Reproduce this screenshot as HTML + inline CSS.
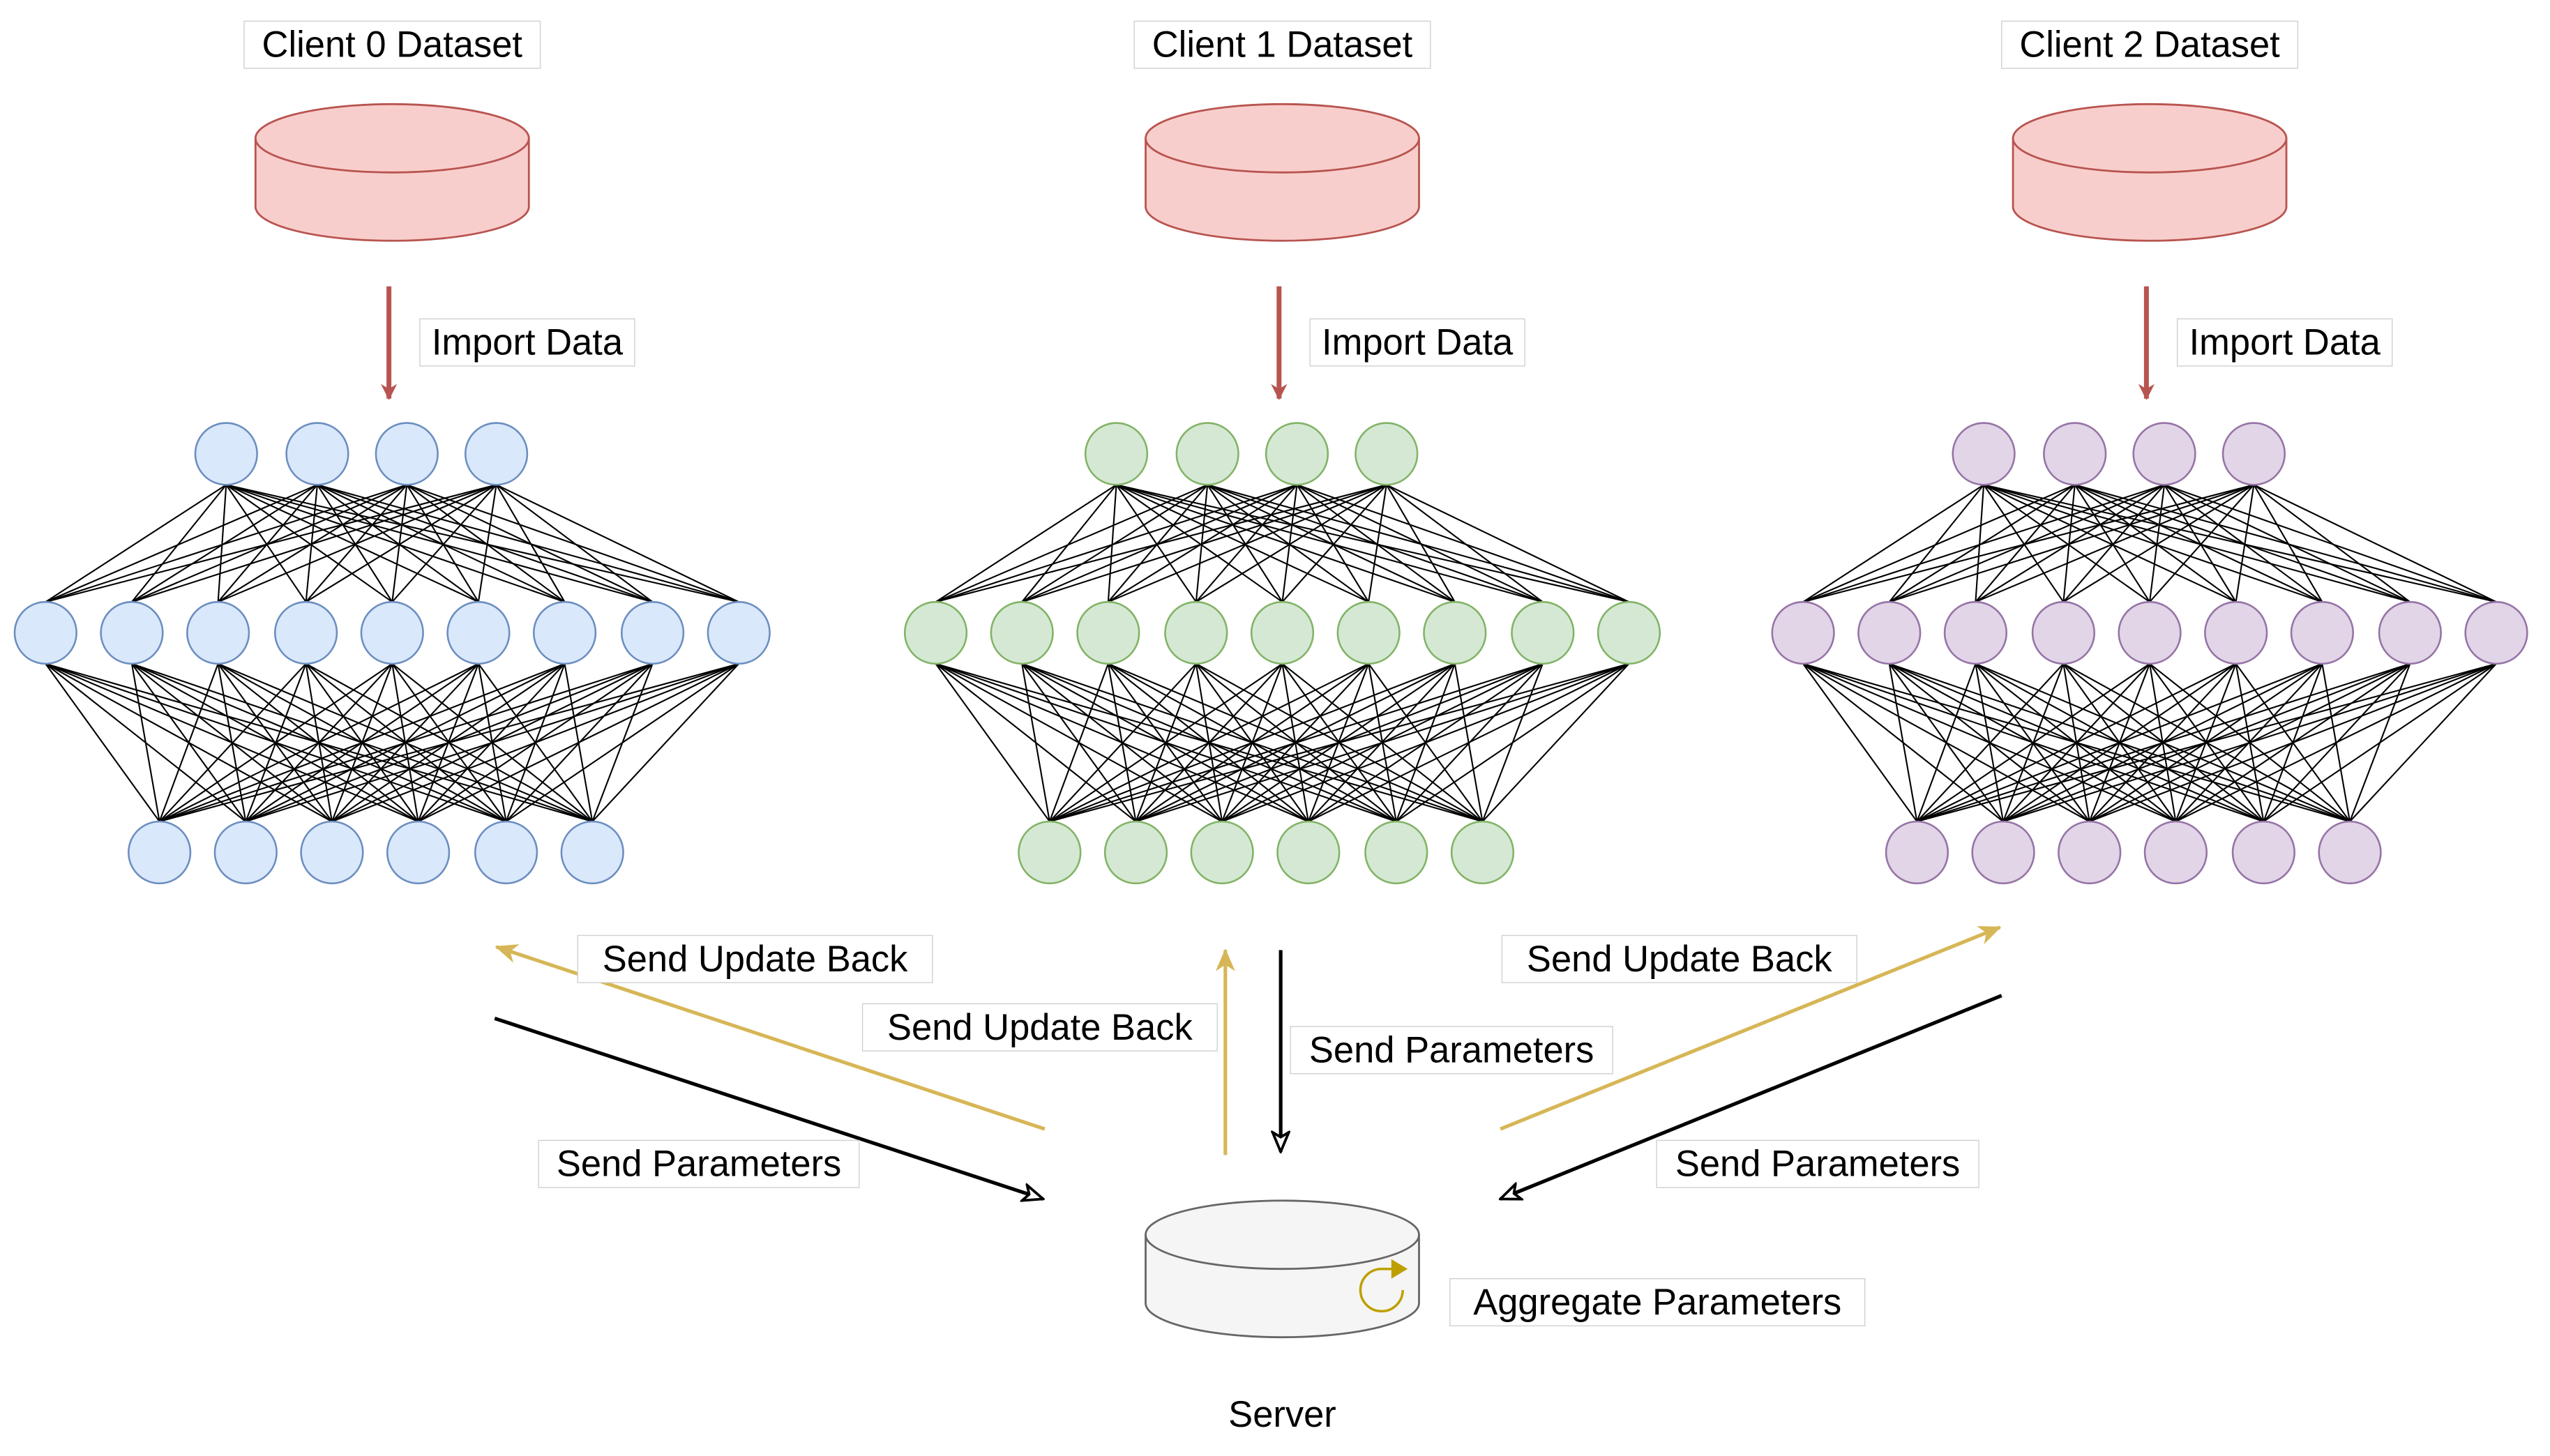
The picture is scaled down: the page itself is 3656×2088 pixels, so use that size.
<!DOCTYPE html>
<html><head><meta charset="utf-8"><style>html,body{margin:0;padding:0;background:#fff}svg{display:block}</style></head>
<body>
<svg xmlns="http://www.w3.org/2000/svg" width="3656" height="2088" viewBox="0 0 1567 895" preserveAspectRatio="none">
<defs>
<marker id="ar" markerWidth="10" markerHeight="10" refX="9" refY="5" orient="auto" markerUnits="userSpaceOnUse"><path d="M0,0 L10,5 L0,10 L3,5 z" fill="#b85450"/></marker>
<marker id="ag" markerWidth="14" markerHeight="12" refX="13" refY="6" orient="auto" markerUnits="userSpaceOnUse"><path d="M0,0 L14,6 L0,12 L4,6 z" fill="#d6b656"/></marker>
<marker id="ab" markerWidth="14" markerHeight="12" refX="13" refY="6" orient="auto" markerUnits="userSpaceOnUse"><path d="M1,1 L13,6 L1,11 L4,6 z" fill="#fff" stroke="#000" stroke-width="1.6"/></marker>
</defs>
<g id="all" font-family="Liberation Sans, sans-serif" font-size="22.5" fill="#000"></g>
</svg>
<script>
const S="http://www.w3.org/2000/svg",g=document.getElementById('all');
function el(t,a,txt){const e=document.createElementNS(S,t);for(const k in a)e.setAttribute(k,a[k]);if(txt)e.textContent=txt;g.appendChild(e);return e;}
function label(x,y,w,t){el('rect',{x:x,y:y,width:w,height:29,fill:'#fff',stroke:'#d0d0d0','stroke-width':0.6});el('text',{x:x+w/2,y:y+22,'text-anchor':'middle'},t);}
function cyl(cx,top,bot,fill,stroke){const rx=84,ry=21;
 el('path',{d:`M${cx-rx},${top+ry} L${cx-rx},${bot-ry} A${rx},${ry} 0 0 0 ${cx+rx},${bot-ry} L${cx+rx},${top+ry} A${rx},${ry} 0 0 0 ${cx-rx},${top+ry} z`,fill:fill,stroke:stroke,'stroke-width':1.2});
 el('path',{d:`M${cx-rx},${top+ry} A${rx},${ry} 0 0 0 ${cx+rx},${top+ry}`,fill:'none',stroke:stroke,'stroke-width':1.2});}
const cols=[['#dae8fc','#6c8ebf'],['#d5e8d4','#82b366'],['#e1d5e7','#9673a6']];
const titles=['Client 0 Dataset','Client 1 Dataset','Client 2 Dataset'];
for(let c=0;c<3;c++){const o=[0,547,1080][c];const cx=[241,788,1321][c];
 label(cx-91,13,182,titles[c]);
 cyl(cx,64,148,'#f8cecc','#b85450');
 el('line',{x1:cx-2,y1:176,x2:cx-2,y2:245,stroke:'#b85450','stroke-width':3,'marker-end':'url(#ar)'});
 label(cx+17,196,132,'Import Data');
 const T=[139,195,250,305].map(x=>x+o),M=[28,81,134,188,241,294,347,401,454].map(x=>x+o),B=[98,151,204,257,311,364].map(x=>x+o);
 for(const a of T)for(const b of M)el('line',{x1:a,y1:298,x2:b,y2:370,stroke:'#000','stroke-width':0.9});
 for(const a of M)for(const b of B)el('line',{x1:a,y1:408,x2:b,y2:505,stroke:'#000','stroke-width':0.9});
 for(const x of T)el('ellipse',{cx:x,cy:279,rx:19,ry:19,fill:cols[c][0],stroke:cols[c][1],'stroke-width':1.1});
 for(const x of M)el('ellipse',{cx:x,cy:389,rx:19,ry:19,fill:cols[c][0],stroke:cols[c][1],'stroke-width':1.1});
 for(const x of B)el('ellipse',{cx:x,cy:524,rx:19,ry:19,fill:cols[c][0],stroke:cols[c][1],'stroke-width':1.1});
}
const G='#d6b656';
el('line',{x1:642,y1:694,x2:305,y2:582,stroke:G,'stroke-width':2.2,'marker-end':'url(#ag)'});
el('line',{x1:304,y1:626,x2:641,y2:737,stroke:'#000','stroke-width':2.2,'marker-end':'url(#ab)'});
el('line',{x1:753,y1:710,x2:753,y2:584,stroke:G,'stroke-width':2.2,'marker-end':'url(#ag)'});
el('line',{x1:787,y1:584,x2:787,y2:708,stroke:'#000','stroke-width':2.2,'marker-end':'url(#ab)'});
el('line',{x1:922,y1:694,x2:1229,y2:570,stroke:G,'stroke-width':2.2,'marker-end':'url(#ag)'});
el('line',{x1:1230,y1:612,x2:922,y2:737,stroke:'#000','stroke-width':2.2,'marker-end':'url(#ab)'});
label(355,575,218,'Send Update Back');
label(530,617,218,'Send Update Back');
label(793,631,198,'Send Parameters');
label(923,575,218,'Send Update Back');
label(331,701,197,'Send Parameters');
label(1018,701,198,'Send Parameters');
cyl(788,738,822,'#f5f5f5','#666666');
el('path',{d:'M862,793 A13,13 0 1 1 849,780 L856,780',fill:'none',stroke:'#bf9f00','stroke-width':1.5});
el('path',{d:'M855,774 L865,780 L855,786 z',fill:'#bf9f00'});
label(891,786,255,'Aggregate Parameters');
el('rect',{x:751,y:855,width:75,height:29,fill:'#fff'});
el('text',{x:788,y:877,'text-anchor':'middle'},'Server');
</script>
</body></html>
